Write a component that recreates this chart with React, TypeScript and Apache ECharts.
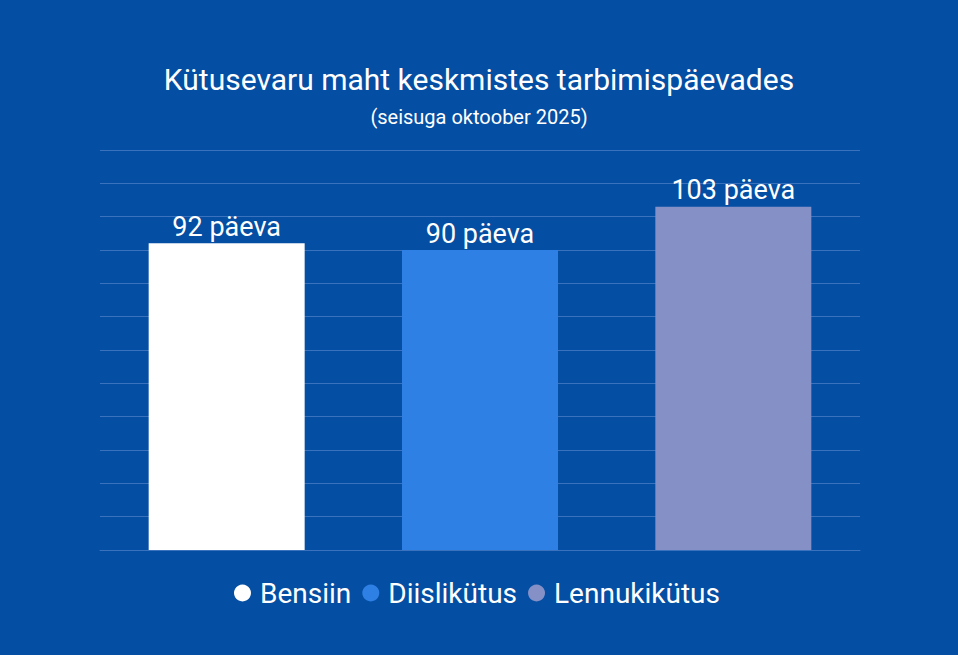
import { useEffect, useRef } from 'react';
import * as echarts from 'echarts';

const categories = ['Bensiin', 'Diislikütus', 'Lennukikütus'];
const values = [92, 90, 103];
const colors = ['#ffffff', '#2f80e4', '#8490c6'];
const yTicks = [0, 10, 20, 30, 40, 50, 60, 70, 80, 90, 100, 110, 120];

const App = () => {
  const chartRef = useRef<HTMLDivElement>(null);

  useEffect(() => {
    document.body.style.margin = '0';
    if (!chartRef.current) return;
    const chart = echarts.init(chartRef.current, undefined, { renderer: 'svg' });

    chart.setOption({
      animation: false,
      backgroundColor: '#044ea3',
      textStyle: { fontFamily: 'Roboto' },
      title: {
        text: 'Kütusevaru maht keskmistes tarbimispäevades',
        subtext: '(seisuga oktoober 2025)',
        left: 'center',
        top: 59,
        itemGap: 13,
        textStyle: { color: '#ffffff', fontSize: 30, fontWeight: 'normal', fontFamily: 'Roboto' },
        subtextStyle: { color: '#ffffff', fontSize: 20, fontFamily: 'Roboto' },
      },
      legend: {
        bottom: 43,
        left: 229,
        icon: 'circle',
        itemWidth: 17,
        itemHeight: 17,
        itemGap: 11,
        textStyle: { color: '#ffffff', fontSize: 28, fontFamily: 'Roboto', padding: [0, 0, 0, 4] },
        data: categories,
      },
      grid: { left: 100, right: 98, top: 150, bottom: 105 },
      xAxis: {
        type: 'category',
        data: categories,
        axisLine: { show: true, lineStyle: { color: '#3a72bd' } },
        axisTick: { show: false },
        axisLabel: { show: false },
      },
      yAxis: {
        type: 'value',
        min: yTicks[0],
        max: yTicks[yTicks.length - 1],
        interval: 10,
        axisLabel: { show: false },
        axisLine: { show: false },
        axisTick: { show: false },
        splitLine: { lineStyle: { color: '#3a72bd', width: 1 } },
      },
      series: categories.map((name, i) => ({
        name,
        type: 'bar',
        stack: 'all',
        barWidth: 156,
        data: values.map((v, j) => (j === i ? v : '-')),
        itemStyle: { color: colors[i] },
        label: {
          show: true,
          position: 'top',
          distance: 3,
          color: '#ffffff',
          fontSize: 27,
          fontFamily: 'Roboto',
          formatter: (p: any) => `${p.value} päeva`,
        },
      })),
    });

    return () => {
      chart.dispose();
    };
  }, []);

  return <div ref={chartRef} style={{ width: 958, height: 655 }} />;
};

export default App;
